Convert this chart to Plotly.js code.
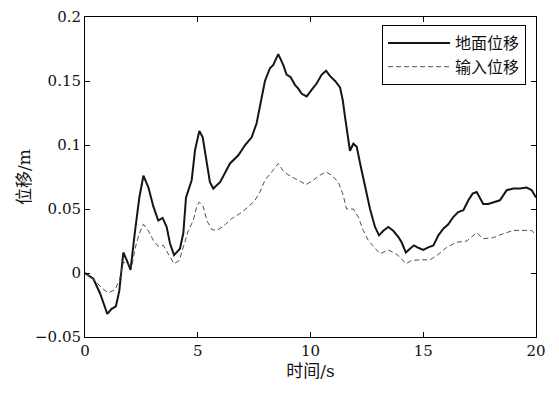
<!DOCTYPE html>
<html>
<head>
<meta charset="utf-8">
<script src="https://cdn.plot.ly/plotly-3.0.1.min.js"></script>
<style>html,body{margin:0;padding:0;background:#fff;}#chart{width:559px;height:396px;}</style>
</head>
<body>
<div id="chart"></div>
<script>
const seriesNames = ["地面位移", "输入位移"];
const xTitle = "时间/s";
const yTitle = "位移/m";

const tGround = [0, 0.37, 0.67, 0.99, 1.18, 1.37, 1.52, 1.70, 1.85, 2.02, 2.22, 2.41, 2.59, 2.81, 3.03, 3.25, 3.44, 3.62, 3.77, 3.95, 4.21, 4.36, 4.48, 4.73, 4.88, 5.07, 5.22, 5.37, 5.54, 5.69, 5.99, 6.43, 6.80, 7.10, 7.39, 7.61, 7.76, 7.98, 8.20, 8.35, 8.57, 8.79, 8.94, 9.12, 9.31, 9.46, 9.61, 9.83, 10.05, 10.27, 10.50, 10.69, 10.86, 11.09, 11.31, 11.43, 11.53, 11.63, 11.75, 11.90, 12.05, 12.20, 12.42, 12.64, 12.86, 13.04, 13.23, 13.45, 13.67, 13.90, 14.04, 14.23, 14.41, 14.59, 14.78, 15.00, 15.22, 15.45, 15.67, 15.89, 16.11, 16.33, 16.55, 16.78, 17.00, 17.19, 17.37, 17.52, 17.66, 17.88, 18.11, 18.40, 18.70, 19.00, 19.29, 19.59, 19.81, 20.0];
const ground = [0, -0.0045, -0.016, -0.032, -0.028, -0.026, -0.014, 0.016, 0.010, 0.0025, 0.033, 0.059, 0.076, 0.067, 0.052, 0.041, 0.043, 0.036, 0.023, 0.014, 0.019, 0.031, 0.059, 0.0725, 0.096, 0.111, 0.106, 0.091, 0.071, 0.066, 0.071, 0.0856, 0.092, 0.100, 0.106, 0.117, 0.130, 0.150, 0.160, 0.1626, 0.171, 0.1626, 0.155, 0.153, 0.147, 0.144, 0.140, 0.138, 0.143, 0.148, 0.155, 0.158, 0.154, 0.150, 0.145, 0.135, 0.122, 0.109, 0.0955, 0.101, 0.0986, 0.0856, 0.067, 0.050, 0.036, 0.0294, 0.033, 0.036, 0.033, 0.028, 0.024, 0.016, 0.019, 0.0216, 0.0197, 0.018, 0.020, 0.0216, 0.0294, 0.0346, 0.038, 0.0437, 0.0476, 0.049, 0.0568, 0.062, 0.0633, 0.059, 0.054, 0.054, 0.0555, 0.0568, 0.0647, 0.066, 0.066, 0.0668, 0.0647, 0.059];

const tInput = [0, 0.44, 0.74, 1.03, 1.33, 1.52, 1.70, 1.92, 2.07, 2.22, 2.41, 2.59, 2.81, 3.03, 3.25, 3.47, 3.69, 3.95, 4.18, 4.39, 4.58, 4.80, 4.95, 5.07, 5.25, 5.40, 5.62, 5.84, 6.13, 6.50, 6.87, 7.24, 7.54, 7.76, 7.98, 8.28, 8.57, 8.82, 9.17, 9.46, 9.80, 10.12, 10.42, 10.68, 10.94, 11.23, 11.43, 11.60, 11.90, 12.12, 12.34, 12.56, 12.86, 13.08, 13.45, 13.75, 13.97, 14.23, 14.49, 14.86, 15.30, 15.60, 16.04, 16.48, 16.93, 17.37, 17.66, 18.11, 18.55, 19.00, 19.51, 19.81, 20.0];
const input = [0, -0.006, -0.0116, -0.0155, -0.013, -0.006, 0.0085, 0.007, 0.0045, 0.019, 0.031, 0.038, 0.033, 0.0255, 0.0208, 0.0216, 0.015, 0.0072, 0.0098, 0.023, 0.033, 0.041, 0.0516, 0.0555, 0.0516, 0.041, 0.034, 0.0333, 0.0364, 0.0425, 0.0464, 0.0516, 0.0568, 0.0633, 0.0725, 0.079, 0.0856, 0.079, 0.075, 0.0725, 0.069, 0.0725, 0.0764, 0.079, 0.0764, 0.071, 0.062, 0.050, 0.050, 0.0437, 0.0333, 0.0255, 0.019, 0.015, 0.018, 0.0155, 0.0124, 0.0072, 0.0098, 0.0103, 0.0103, 0.0137, 0.020, 0.024, 0.025, 0.0315, 0.0268, 0.0276, 0.0307, 0.0333, 0.0333, 0.0333, 0.0294];

const TICKFONT = "DejaVu Serif";
const TITLEFONT = "DejaVu Serif, Noto Sans CJK SC";

const traces = [
  {x: tGround, y: ground, name: seriesNames[0], type: "scatter", mode: "lines",
   line: {color: "#151515", width: 2}},
  {x: tInput, y: input, name: seriesNames[1], type: "scatter", mode: "lines",
   line: {color: "#505050", width: 1, dash: "5px,3px"}}
];

const axisCommon = {
  showgrid: false, zeroline: false, showline: true, linecolor: "#000", linewidth: 1,
  mirror: "ticks", ticks: "inside", ticklen: 5, tickcolor: "#000", tickwidth: 1,
  tickfont: {family: TICKFONT, size: 15, color: "#111"}
};

const layout = {
  width: 559, height: 396,
  margin: {l: 85, r: 23, t: 17, b: 59},
  paper_bgcolor: "#fff", plot_bgcolor: "#fff",
  font: {family: TICKFONT},
  showlegend: true,
  legend: {x: 0.978, y: 0.975, xanchor: "right", yanchor: "top",
    bgcolor: "#fff", bordercolor: "#000", borderwidth: 1,
    font: {family: "Noto Sans CJK SC", size: 16, color: "#111"},
    tracegroupgap: 0, itemwidth: 62},
  xaxis: Object.assign({}, axisCommon, {range: [0, 20], dtick: 5, tick0: 0,
    title: {text: xTitle, font: {family: TITLEFONT, size: 17, color: "#111"}, standoff: 6}}),
  yaxis: Object.assign({}, axisCommon, {range: [-0.05, 0.2], dtick: 0.05, tick0: 0,
    title: {text: yTitle, font: {family: TITLEFONT, size: 17, color: "#111"}, standoff: 0}})
};

Plotly.newPlot("chart", traces, layout, {staticPlot: true, displayModeBar: false});
</script>
</body>
</html>
